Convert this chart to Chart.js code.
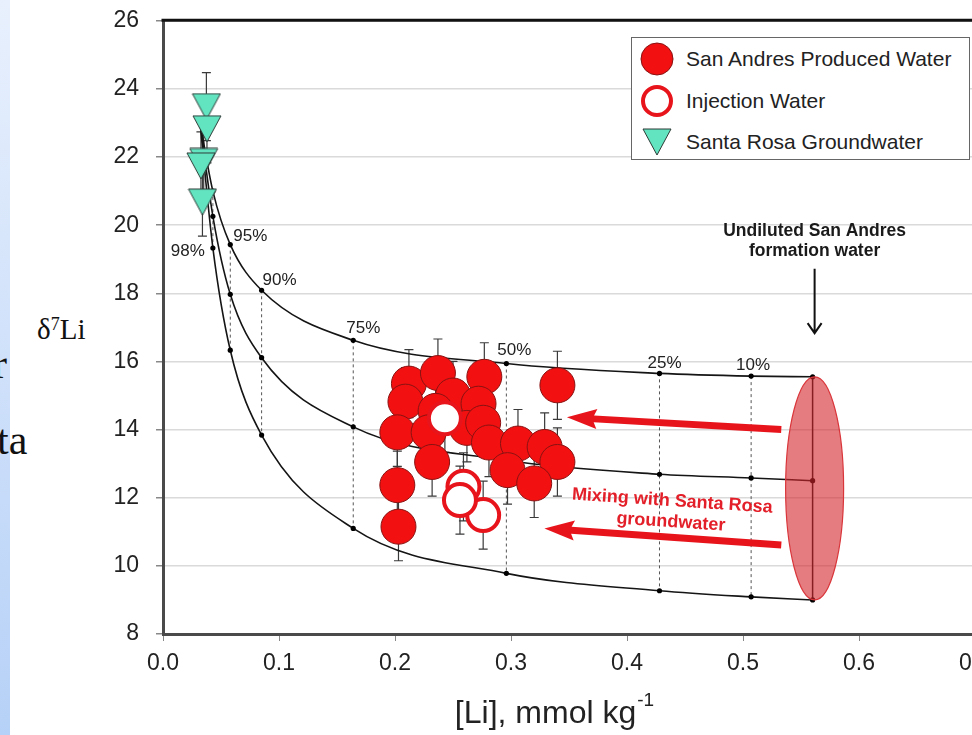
<!DOCTYPE html>
<html>
<head>
<meta charset="utf-8">
<script src="https://cdn.jsdelivr.net/npm/chart.js@4.4.1/dist/chart.umd.min.js"></script>
<style>
  html, body { margin:0; padding:0; background:#fff; width:972px; height:735px; overflow:hidden; }
  #wrap { position:absolute; left:0; top:-10px; width:1000px; height:745px; }
  .band { position:absolute; left:0; top:0; width:10px; height:735px; background:linear-gradient(#e8f0fd, #b6d1f7); }
  .serif { position:absolute; font-family:"Liberation Serif","Times New Roman",serif; color:#111; white-space:nowrap; }
  #legend { position:absolute; left:631px; top:37px; width:337px; height:121px; border:1px solid #666; background:#fff;
            font-family:"Liberation Sans",Arial,sans-serif; font-size:21px; color:#222; }
  #legend .row { position:absolute; left:0; height:30px; display:flex; align-items:center; }
  #legend .mk { width:50px; display:flex; justify-content:center; }
  #legend .tx { margin-left:4px; }
</style>
</head>
<body>
<div class="band"></div>
<div class="serif" style="left:-7px;top:340px;font-size:42px;">r</div>
<div class="serif" style="left:-3px;top:416px;font-size:42px;">ta</div>
<div class="serif" style="left:37px;top:313px;font-size:29px;">&delta;<sup style="font-size:18px;vertical-align:9px;">7</sup>Li</div>
<div id="wrap"><canvas id="chart"></canvas></div>
<div id="legend"></div>
<script>
// ---- values ----
// San Andres produced water: [Li] (mmol/kg), d7Li (permil), error
const sanAndresLi  = [0.212, 0.237, 0.250, 0.277, 0.209, 0.272, 0.235, 0.262, 0.276, 0.202, 0.229, 0.281, 0.306, 0.329, 0.340, 0.232, 0.297, 0.320, 0.202, 0.203, 0.340];
const sanAndresD7  = [15.35, 15.66, 15.00, 15.55, 14.82, 14.76, 14.55, 14.05, 14.20, 13.92, 13.92, 13.62, 13.59, 13.49, 13.05, 13.05, 12.81, 12.42, 12.37, 11.15, 15.30];
const sanAndresErr = [1.0, 1.0, 1.0, 1.0, 1.0, 1.0, 1.0, 1.0, 1.0, 1.0, 1.0, 1.0, 1.0, 1.0, 1.0, 1.0, 1.0, 1.0, 1.0, 1.0, 1.0];

// Injection water
const injectionLi  = [0.243, 0.259, 0.276, 0.256];
const injectionD7  = [14.33, 12.32, 11.49, 11.93];
const injectionErr = [1.0, 1.0, 1.0, 1.0];

// Santa Rosa groundwater
const santaRosaLi  = [0.0374, 0.0379, 0.0351, 0.0327, 0.0340];
const santaRosaD7  = [23.48, 22.83, 21.87, 21.74, 20.68];
const santaRosaErr = [1.0, 1.0, 1.0, 1.0, 1.0];

// mixing curves (groundwater -> formation water), marked mixing steps
const mixLi     = [0.032, 0.043, 0.058, 0.085, 0.164, 0.296, 0.428, 0.507, 0.560];
const mixUpper  = [23.00, 21.00, 19.43, 18.09, 16.62, 15.94, 15.65, 15.57, 15.55];
const mixMiddle = [23.00, 20.26, 17.97, 16.11, 14.08, 13.10, 12.69, 12.58, 12.50];
const mixLower  = [23.00, 19.33, 16.33, 13.84, 11.10, 9.78, 9.27, 9.09, 9.00];
const mixPct    = ['100%', '98%', '95%', '90%', '75%', '50%', '25%', '10%', '0%'];

// undiluted formation water range (ellipse)
const formationLi = 0.56;
const formationD7 = [9.0, 15.55];

const seriesNames = ['San Andres Produced Water', 'Injection Water', 'Santa Rosa Groundwater'];
const xTicks = [0.0, 0.1, 0.2, 0.3, 0.4, 0.5, 0.6, 0.7];
const yTicks = [8, 10, 12, 14, 16, 18, 20, 22, 24, 26];

// ---- styles ----
const RED = '#f21010', RED_EDGE = '#8a1212', ARROW_RED = '#e8141c', MINT = '#62e4c1';
const FONT = '"Liberation Sans", Arial, sans-serif';
// label offsets (px) from the marked point, for the % labels
const pctOffset = { '98%':[-24,3,'lower'], '95%':[20,-8], '90%':[18,-10], '75%':[10,-12], '50%':[8,-13], '25%':[5,-10], '10%':[2,-11] };

function pts(xs, ys){ return xs.map((x,i)=>({x, y:ys[i]})); }

function triMarker(w, h){
  const c = document.createElement('canvas');
  c.width = w + 2; c.height = h + 2;
  const g = c.getContext('2d');
  g.beginPath(); g.moveTo(1,1); g.lineTo(w+1,1); g.lineTo(w/2+1,h+1); g.closePath();
  g.fillStyle = MINT; g.fill();
  g.lineWidth = 1; g.strokeStyle = '#2d3b36'; g.stroke();
  return c;
}

// legend (html)
(function(){
  const marks = [
    '<svg width="36" height="36"><circle cx="18" cy="18" r="16" fill="'+RED+'" stroke="'+RED_EDGE+'" stroke-width="1"/></svg>',
    '<svg width="36" height="36"><circle cx="18" cy="18" r="14" fill="#fff" stroke="'+ARROW_RED+'" stroke-width="4"/></svg>',
    '<svg width="30" height="30"><polygon points="1,2 29,2 15,28" fill="'+MINT+'" stroke="#2d3b36" stroke-width="1"/></svg>'
  ];
  const tops = [6, 48, 89];
  document.getElementById('legend').innerHTML = seriesNames.map((n,i)=>
    `<div class="row" style="top:${tops[i]}px"><div class="mk">${marks[i]}</div><div class="tx">${n}</div></div>`).join('');
})();

// error bars under the markers
const errorBars = {
  id:'errorBars',
  beforeDatasetsDraw(chart){
    const {ctx} = chart, y = chart.scales.y;
    ctx.save(); ctx.strokeStyle = '#3a3a3a'; ctx.lineWidth = 1.2;
    chart.data.datasets.forEach((ds,i)=>{
      if(!ds.errors) return;
      chart.getDatasetMeta(i).data.forEach((p,j)=>{
        const v = ds.data[j].y, e = ds.errors[j];
        const y1 = y.getPixelForValue(v+e), y2 = y.getPixelForValue(v-e);
        ctx.beginPath();
        ctx.moveTo(p.x, y1); ctx.lineTo(p.x, y2);
        ctx.moveTo(p.x-4.5, y1); ctx.lineTo(p.x+4.5, y1);
        ctx.moveTo(p.x-4.5, y2); ctx.lineTo(p.x+4.5, y2);
        ctx.stroke();
      });
    });
    ctx.restore();
  }
};

function redArrow(ctx, x1, y1, x2, y2){
  const ang = Math.atan2(y2-y1, x2-x1), L = Math.hypot(x2-x1, y2-y1);
  const hl = 30, hw = 10, sw = 3.5;
  ctx.save(); ctx.translate(x2, y2); ctx.rotate(ang);
  ctx.beginPath();
  ctx.moveTo(0,0); ctx.lineTo(-hl,-hw); ctx.lineTo(-hl+3,-sw); ctx.lineTo(-L,-sw);
  ctx.lineTo(-L,sw); ctx.lineTo(-hl+3,sw); ctx.lineTo(-hl,hw); ctx.closePath();
  ctx.fillStyle = ARROW_RED; ctx.fill();
  ctx.restore();
}

const annotations = {
  id:'annotations',
  afterDatasetsDraw(chart){
    const {ctx} = chart, sx = chart.scales.x, sy = chart.scales.y;
    // formation water ellipse
    const cx = sx.getPixelForValue(formationLi) + 2;
    const yt = sy.getPixelForValue(formationD7[1]), yb = sy.getPixelForValue(formationD7[0]);
    ctx.save();
    ctx.beginPath();
    ctx.ellipse(cx, (yt+yb)/2, 29, (yb-yt)/2, 0, 0, Math.PI*2);
    ctx.fillStyle = 'rgba(212,38,44,0.6)'; ctx.fill();
    ctx.lineWidth = 1.2; ctx.strokeStyle = '#d9363b'; ctx.stroke();
    ctx.restore();
  },
  afterDraw(chart){
    const {ctx, chartArea:ca} = chart, sx = chart.scales.x, sy = chart.scales.y;
    ctx.save();
    // top frame line
    ctx.strokeStyle = '#111'; ctx.lineWidth = 3;
    ctx.beginPath(); ctx.moveTo(ca.left-1.5, ca.top-0.5); ctx.lineTo(ca.right+30, ca.top-0.5); ctx.stroke();

    // % labels
    ctx.font = '17px ' + FONT; ctx.fillStyle = '#222'; ctx.textAlign = 'center'; ctx.textBaseline = 'middle';
    for(let i = 1; i <= 7; i++){
      const lab = mixPct[i], o = pctOffset[lab];
      const ref = o[2] === 'lower' ? mixLower[i] : mixUpper[i];
      const px = sx.getPixelForValue(mixLi[i]), py = sy.getPixelForValue(ref);
      if(o[2] === 'lower'){ ctx.textAlign = 'right'; ctx.fillText(lab, px + o[0] + 16, py + o[1]); ctx.textAlign = 'center'; }
      else ctx.fillText(lab, px + o[0], py + o[1]);
    }

    // "Undiluted San Andres formation water" + arrow
    const ux = sx.getPixelForValue(formationLi) + 2;
    ctx.font = 'bold 17.5px ' + FONT; ctx.fillStyle = '#1a1a1a';
    ctx.fillText('Undiluted San Andres', ux, sy.getPixelForValue(19.82));
    ctx.fillText('formation water', ux, sy.getPixelForValue(19.23));
    const a1 = sy.getPixelForValue(18.72), a2 = sy.getPixelForValue(16.83);
    ctx.strokeStyle = '#111'; ctx.lineWidth = 2;
    ctx.beginPath(); ctx.moveTo(ux, a1); ctx.lineTo(ux, a2);
    ctx.moveTo(ux-7, a2-10); ctx.lineTo(ux, a2); ctx.lineTo(ux+7, a2-10); ctx.stroke();

    // red mixing arrows
    redArrow(ctx, sx.getPixelForValue(0.533), sy.getPixelForValue(14.00), sx.getPixelForValue(0.3482), sy.getPixelForValue(14.36));
    redArrow(ctx, sx.getPixelForValue(0.533), sy.getPixelForValue(10.61), sx.getPixelForValue(0.3288), sy.getPixelForValue(11.10));

    // red text, slightly tilted
    ctx.save();
    ctx.translate(sx.getPixelForValue(0.4390), sy.getPixelForValue(11.90));
    ctx.rotate(3.8 * Math.PI / 180);
    ctx.font = 'bold 18px ' + FONT; ctx.fillStyle = '#e3202a';
    ctx.fillText('Mixing with Santa Rosa', 0, 0);
    ctx.fillText('groundwater', 0, 21);
    ctx.restore();

    // x axis title with superscript
    ctx.fillStyle = '#222'; ctx.textAlign = 'left'; ctx.textBaseline = 'alphabetic';
    ctx.font = '32px ' + FONT;
    const main = '[Li], mmol kg', sup = '-1';
    const w1 = ctx.measureText(main).width;
    ctx.font = '19px ' + FONT;
    const w2 = ctx.measureText(sup).width;
    const tx = 554 - (w1 + w2) / 2, base = chart.height - 12;
    ctx.font = '32px ' + FONT; ctx.fillText(main, tx, base);
    ctx.font = '19px ' + FONT; ctx.fillText(sup, tx + w1 + 1, base - 17);
    ctx.restore();
  }
};

// curve + dotted connector datasets
const curveStyle = { type:'line', showLine:true, borderColor:'#151515', borderWidth:1.6, fill:false,
  cubicInterpolationMode:'monotone', pointBackgroundColor:'#000', pointBorderWidth:0,
  pointRadius: c => c.dataIndex === 0 ? 0 : 2.6, order:10 };
const connectors = [];
for(let i = 1; i <= 7; i++){
  connectors.push({ type:'line', showLine:true, data:[{x:mixLi[i], y:mixUpper[i]}, {x:mixLi[i], y:mixLower[i]}],
    borderColor:'#555', borderWidth:1, borderDash:[3,3], pointRadius:0, order:11 });
}

const chart = new Chart(document.getElementById('chart'), {
  type:'scatter',
  data:{ datasets:[
    { label:seriesNames[1], data:pts(injectionLi, injectionD7), errors:injectionErr,
      pointRadius:16, pointBackgroundColor:'#fff', pointBorderColor:ARROW_RED, pointBorderWidth:4, order:1 },
    { label:seriesNames[0], data:pts(sanAndresLi, sanAndresD7), errors:sanAndresErr,
      pointRadius:17.5, pointBackgroundColor:RED, pointBorderColor:RED_EDGE, pointBorderWidth:1, order:2 },
    { label:seriesNames[2], data:pts(santaRosaLi, santaRosaD7), errors:santaRosaErr,
      pointStyle:triMarker(28, 26), pointRadius:14, order:3 },
    Object.assign({ data:pts(mixLi, mixUpper) }, curveStyle),
    Object.assign({ data:pts(mixLi, mixMiddle) }, curveStyle),
    Object.assign({ data:pts(mixLi, mixLower) }, curveStyle),
    ...connectors,
    { type:'line', showLine:true, data:[{x:formationLi, y:formationD7[1]}, {x:formationLi, y:formationD7[0]}],
      borderColor:'#151515', borderWidth:1.5, pointRadius:0, order:12 }
  ]},
  options:{
    responsive:true, maintainAspectRatio:false, animation:false, events:[],
    layout:{ padding:{ left:0, right:4, top:9, bottom:0 } },
    plugins:{ legend:{display:false}, tooltip:{enabled:false} },
    scales:{
      x:{ type:'linear', min:0, max:0.7,
        afterBuildTicks: s => { s.ticks = xTicks.map(v=>({value:v})); },
        afterFit: s => { s.height = 101; },
        ticks:{ callback: v => v.toFixed(1), font:{family:FONT, size:23}, color:'#222', padding:9, maxRotation:0 },
        grid:{ drawOnChartArea:false, drawTicks:true, tickLength:7, tickColor:'#888' },
        border:{ display:true, color:'#4a4a4a', width:3 } },
      y:{ min:8, max:26,
        afterBuildTicks: s => { s.ticks = yTicks.map(v=>({value:v})); },
        afterFit: s => { s.width = 163; },
        ticks:{ font:{family:FONT, size:23}, color:'#222', padding:17 },
        grid:{ color:'#dadada', lineWidth:1.5, drawTicks:true, tickLength:7, tickColor:'#888' },
        border:{ display:true, color:'#4a4a4a', width:3 } }
    }
  },
  plugins:[errorBars, annotations]
});
</script>
</body>
</html>
